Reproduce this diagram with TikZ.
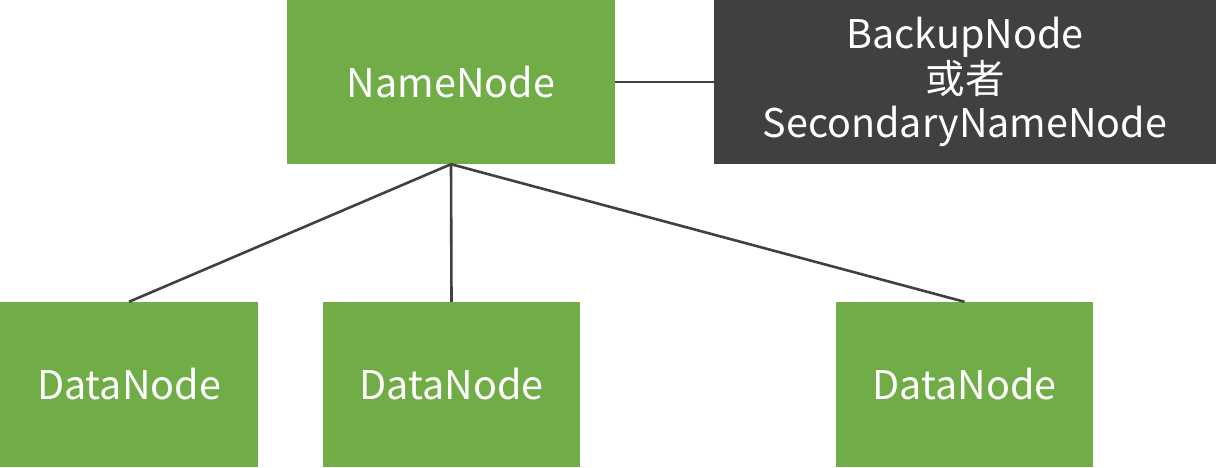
\documentclass[tikz,border=0pt]{standalone}
\usepackage{fontspec}
\setmainfont{Noto Sans CJK SC}
\begin{document}
\begin{tikzpicture}[x=1pt,y=-1pt,
  gbox/.style={fill={rgb,255:red,112;green,173;blue,71}, draw=none, text=white, font=\fontsize{39.5}{44}\selectfont, inner sep=0pt},
  dbox/.style={fill={rgb,255:red,64;green,64;blue,64}, draw=none, text=white, font=\fontsize{39.5}{44.5}\selectfont, inner sep=0pt, align=center},
  conn/.style={draw={rgb,255:red,64;green,64;blue,64}, line width=2.6pt}]
\useasboundingbox (0,0) rectangle (1216,467);
\node[gbox, minimum width=328pt, minimum height=164pt] (nn) at (451,82) {NameNode};
\node[dbox, minimum width=502pt, minimum height=164pt] (bn) at (965,82) {BackupNode\\或者\\SecondaryNameNode};
\node[gbox, minimum width=258pt, minimum height=165pt] (d1) at (129,384.5) {DataNode};
\node[gbox, minimum width=257pt, minimum height=165pt] (d2) at (451.5,384.5) {DataNode};
\node[gbox, minimum width=257pt, minimum height=165pt] (d3) at (964.5,384.5) {DataNode};
\coordinate (nb) at (nn.south);
\draw[conn] (nn.east) -- (bn.west);
\draw[conn] (nb) -- (d1.north);
\draw[conn] (nb) -- (d2.north);
\draw[conn] (nb) -- (d3.north);
\end{tikzpicture}
\end{document}
